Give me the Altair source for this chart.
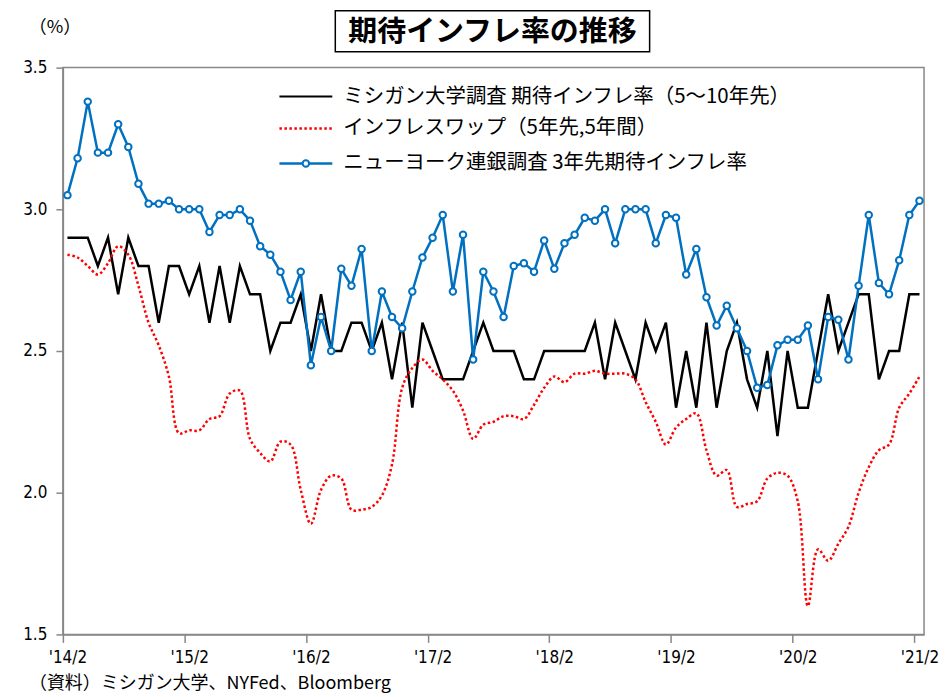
import json
import altair as alt
import pandas as pd

# ---- data -------------------------------------------------------------
months = []
for k in range(85):
    m = 1 + k  # 0-based month counter starting Feb 2014
    yr = 2014 + m // 12
    mo = m % 12 + 1
    months.append(f"{yr}-{mo:02d}")

michigan = [2.9, 2.9, 2.9, 2.8, 2.9, 2.7, 2.9, 2.8, 2.8, 2.6,
            2.8, 2.8, 2.7, 2.8, 2.6, 2.8, 2.6, 2.8, 2.7, 2.7,
            2.5, 2.6, 2.6, 2.7, 2.5, 2.7, 2.5, 2.5, 2.6, 2.6,
            2.5, 2.6, 2.4, 2.6, 2.3, 2.6, 2.5, 2.4, 2.4, 2.4,
            2.5, 2.6, 2.5, 2.5, 2.5, 2.4, 2.4, 2.5, 2.5, 2.5,
            2.5, 2.5, 2.6, 2.4, 2.6, 2.5, 2.4, 2.6, 2.5, 2.6,
            2.3, 2.5, 2.3, 2.6, 2.3, 2.5, 2.6, 2.4, 2.3, 2.5,
            2.2, 2.5, 2.3, 2.3, 2.5, 2.7, 2.5, 2.6, 2.7, 2.7,
            2.4, 2.5, 2.5, 2.7, 2.7]

swap = [2.84, 2.83, 2.80, 2.77, 2.81, 2.87, 2.84, 2.73, 2.60, 2.52,
        2.41, 2.21, 2.22, 2.22, 2.26, 2.27, 2.35, 2.36, 2.19, 2.14,
        2.11, 2.18, 2.17, 2.01, 1.89, 2.01, 2.06, 2.05, 1.94, 1.94,
        1.95, 1.99, 2.10, 2.37, 2.44, 2.47, 2.43, 2.40, 2.36, 2.29,
        2.19, 2.24, 2.25, 2.27, 2.27, 2.26, 2.31, 2.37, 2.41, 2.39,
        2.42, 2.42, 2.43, 2.42, 2.42, 2.42, 2.40, 2.32, 2.25, 2.17,
        2.23, 2.26, 2.28, 2.15, 2.06, 2.08, 1.95, 1.96, 1.97, 2.05,
        2.07, 2.06, 1.97, 1.60, 1.80, 1.76, 1.82, 1.88, 2.00, 2.09,
        2.15, 2.17, 2.30, 2.35, 2.41]

nyfed = [3.05, 3.18, 3.38, 3.20, 3.20, 3.30, 3.22, 3.09, 3.02, 3.02,
         3.03, 3.00, 3.00, 3.00, 2.92, 2.98, 2.98, 3.00, 2.96, 2.87,
         2.84, 2.78, 2.68, 2.78, 2.45, 2.62, 2.50, 2.79, 2.73, 2.86,
         2.50, 2.71, 2.62, 2.58, 2.71, 2.83, 2.90, 2.98, 2.71, 2.91,
         2.47, 2.78, 2.71, 2.62, 2.80, 2.81, 2.78, 2.89, 2.79, 2.88,
         2.91, 2.97, 2.96, 3.00, 2.88, 3.00, 3.00, 3.00, 2.88, 2.98,
         2.97, 2.77, 2.86, 2.69, 2.59, 2.66, 2.58, 2.50, 2.37, 2.38,
         2.52, 2.54, 2.54, 2.59, 2.40, 2.62, 2.61, 2.47, 2.73, 2.98,
         2.74, 2.70, 2.82, 2.98, 3.03]

series_names = [
    "ミシガン大学調査 期待インフレ率（5～10年先）",
    "インフレスワップ（5年先,5年間）",
    "ニューヨーク連銀調査 3年先期待インフレ率",
]
x_tick_labels = ["'14/2", "'15/2", "'16/2", "'17/2", "'18/2", "'19/2", "'20/2", "'21/2"]
y_ticks = [1.5, 2.0, 2.5, 3.0, 3.5]
title_text = "期待インフレ率の推移"
unit_text = "（%）"
source_text = "（資料）ミシガン大学、NYFed、Bloomberg"

df = pd.DataFrame({
    "idx": list(range(len(months))),
    "month": months,
    "michigan": michigan,
    "swap": swap,
    "nyfed": nyfed,
})

# ---- style ------------------------------------------------------------
NUM_FONT = "'Liberation Sans Narrow', 'DejaVu Sans Condensed', sans-serif"
JP_FONT = "'Noto Sans CJK JP', sans-serif"
BLUE = "#0070C0"
RED = "#FF0000"
W, H = 863, 568

label_expr = "[" + ",".join(json.dumps(s) for s in x_tick_labels) + "][round(datum.value / 12)]"

x_enc = alt.X(
    "idx:Q",
    scale=alt.Scale(domain=[-0.45, 84.45], nice=False, zero=False),
    axis=alt.Axis(
        values=list(range(0, 85, 12)),
        labelExpr=label_expr,
        tickOffset=-5,
        labelOffset=5,
        tickSize=8,
        labelPadding=7,
        title=None,
        grid=False,
    ),
)


def y_enc(field):
    return alt.Y(
        f"{field}:Q",
        scale=alt.Scale(domain=[1.5, 3.5], nice=False, zero=False),
        axis=alt.Axis(values=y_ticks, format=".1f", title=None, grid=False,
                      tickSize=7, labelPadding=9),
    )


black = alt.Chart(df).mark_line(color="black", strokeWidth=2.5).encode(
    x=x_enc, y=y_enc("michigan"))
red = alt.Chart(df).mark_line(color=RED, strokeWidth=2.5, strokeDash=[2.5, 2.5],
                              interpolate="catmull-rom").encode(
    x=x_enc, y=y_enc("swap"))
blue = alt.Chart(df).mark_line(color=BLUE, strokeWidth=2.5).encode(
    x=x_enc, y=y_enc("nyfed"))
blue_pts = alt.Chart(df).mark_point(shape="circle", filled=True, fill="white",
                                    stroke=BLUE, strokeWidth=2, size=42,
                                    opacity=1).encode(
    x=x_enc, y=y_enc("nyfed"))

one = pd.DataFrame({"k": [0]})

# manual legend (pixel positions relative to plot area)
LX0, LX1, LTX = 217, 270, 281
rows = [29, 61, 96]
leg_black = alt.Chart(one).mark_rule(color="black", strokeWidth=2).encode(
    x=alt.value(LX0), x2=alt.value(LX1), y=alt.value(rows[0]))
leg_red = alt.Chart(one).mark_rule(color=RED, strokeWidth=2.5, strokeDash=[2.5, 2.5]).encode(
    x=alt.value(LX0), x2=alt.value(LX1), y=alt.value(rows[1]))
leg_blue = alt.Chart(one).mark_rule(color=BLUE, strokeWidth=2.5).encode(
    x=alt.value(LX0), x2=alt.value(LX1), y=alt.value(rows[2]))
leg_blue_pt = alt.Chart(one).mark_point(shape="circle", filled=True, fill="white",
                                        stroke=BLUE, strokeWidth=2, size=42,
                                        opacity=1).encode(
    x=alt.value((LX0 + LX1) / 2), y=alt.value(rows[2]))
leg_texts = [
    alt.Chart(one).mark_text(align="left", baseline="middle", font=JP_FONT,
                             fontSize=20.5, color="black").encode(
        x=alt.value(LTX), y=alt.value(r), text=alt.value(name))
    for r, name in zip(rows, series_names)
]

# title with box
title_box = alt.Chart(one).mark_rect(fill="white", stroke="black", strokeWidth=1.5).encode(
    x=alt.value(273), x2=alt.value(588), y=alt.value(-57), y2=alt.value(-16))
title = alt.Chart(one).mark_text(align="center", baseline="middle", font=JP_FONT,
                                 fontSize=29, fontWeight="bold", color="black").encode(
    x=alt.value(430.5), y=alt.value(-36), text=alt.value(title_text))
unit = alt.Chart(one).mark_text(align="center", baseline="middle", font=JP_FONT,
                                fontSize=18, color="black").encode(
    x=alt.value(-8), y=alt.value(-40), text=alt.value(unit_text))
source = alt.Chart(one).mark_text(align="left", baseline="middle", font=JP_FONT,
                                  fontSize=18, color="black").encode(
    x=alt.value(-34), y=alt.value(618), text=alt.value(source_text))

chart = alt.layer(
    black, red, blue, blue_pts,
    leg_black, leg_red, leg_blue, leg_blue_pt, *leg_texts,
    title_box, title, unit, source,
).properties(
    width=W,
    height=H,
    autosize=alt.AutoSizeParams(type="none"),
    padding={"left": 55, "top": 59, "right": 17, "bottom": 64},
    background="white",
).configure_view(
    stroke="#888888", strokeWidth=1.5,
).configure_axis(
    domainColor="#888888", domainWidth=1.5, tickColor="#888888", tickWidth=1.5,
    labelColor="black", labelFont=NUM_FONT, labelFontSize=17,
)

chart.save("out.html", embed_options={"renderer": "svg", "actions": False})
